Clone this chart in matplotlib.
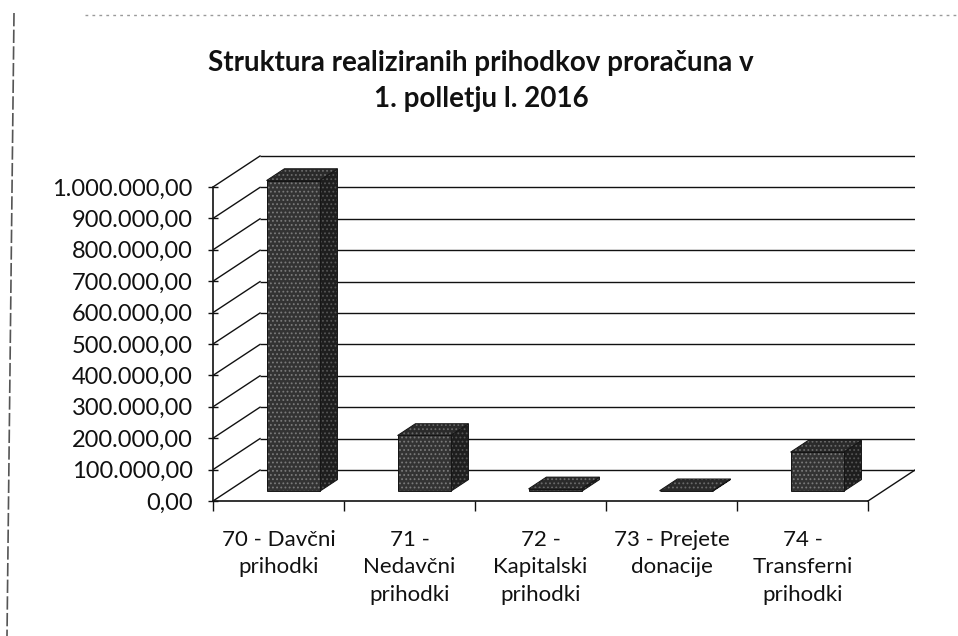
import matplotlib
matplotlib.use("Agg")
import matplotlib.pyplot as plt
from matplotlib.patches import Polygon
from matplotlib.lines import Line2D

# ---- data ----
categories = ["70 - Davčni\nprihodki", "71 -\nNedavčni\nprihodki", "72 -\nKapitalski\nprihodki",
              "73 - Prejete\ndonacije", "74 -\nTransferni\nprihodki"]
values = [990000, 178000, 8000, 2000, 125000]
y_ticks = [0, 100000, 200000, 300000, 400000, 500000, 600000, 700000, 800000, 900000, 1000000]
title = "Struktura realiziranih prihodkov proračuna v\n1. polletju l. 2016"

def fmt(v):
    s = f"{v:,.2f}"
    return s.replace(",", "X").replace(".", ",").replace("X", ".")

# ---- layout ----
W, H = 958, 636
plt.rcParams["hatch.linewidth"] = 0.8
fig = plt.figure(figsize=(W / 100, H / 100), dpi=100)
fig.patch.set_facecolor("white")

px_left, px_right, px_top, px_bottom = 213, 915, 150, 510
px_zero = 501
px_per_cat = 131.0
px_per_val = 314.0 / 1e6
depth_dx, depth_dy = 47.0, 31.0

ax = fig.add_axes([px_left / W, (H - px_bottom) / H, (px_right - px_left) / W, (px_bottom - px_top) / H])
ax.set_xlim(-0.5, -0.5 + (px_right - px_left) / px_per_cat)
ax.set_ylim(-(px_bottom - px_zero) / px_per_val, (px_zero - px_top) / px_per_val)
kx = depth_dx / px_per_cat
ky = depth_dy / px_per_val
n = len(categories)

def proj(x, v, t):
    return (x + kx * t, v + ky * t)

LC = "#111111"
# back wall gridlines + side wall diagonals
for v in y_ticks:
    x0, y0 = proj(-0.5, v, 1)
    x1, y1 = proj(n - 0.5, v, 1)
    ax.plot([x0, x1], [y0, y1], color=LC, lw=1.0, zorder=1, solid_capstyle="butt")
    xa, ya = proj(-0.5, v, 0)
    ax.plot([xa, x0], [ya, y0], color=LC, lw=1.0, zorder=1)
# floor right edge
xa, ya = proj(n - 0.5, 0, 0)
xb, yb = proj(n - 0.5, 0, 1)
ax.plot([xa, xb], [ya, yb], color=LC, lw=1.0, zorder=1)

# bars (stippled dark texture)
bw = 0.405
t0, t1 = 0.31, 0.69

def face(pts, fc, hc, z):
    ax.add_patch(Polygon(pts, closed=True, facecolor=fc, edgecolor="none", lw=0, zorder=z))
    ax.add_patch(Polygon(pts, closed=True, facecolor="none", edgecolor=hc, lw=0, hatch="....", zorder=z + 0.1))
    ax.add_patch(Polygon(pts, closed=True, facecolor="none", edgecolor="#151515", lw=0.7, zorder=z + 0.2))

for i, v in enumerate(values):
    xl, xr = i - bw / 2, i + bw / 2
    front = [proj(xl, 0, t0), proj(xr, 0, t0), proj(xr, v, t0), proj(xl, v, t0)]
    side = [proj(xr, 0, t0), proj(xr, 0, t1), proj(xr, v, t1), proj(xr, v, t0)]
    top = [proj(xl, v, t0), proj(xr, v, t0), proj(xr, v, t1), proj(xl, v, t1)]
    face(side, "#1e1e1e", "#555555", 3)
    face(front, "#333333", "#7a7a7a", 4)
    face(top, "#2a2a2a", "#6a6a6a", 4)

# axes / spines
ax.patch.set_visible(False)
for s in ["top", "right"]:
    ax.spines[s].set_visible(False)
ax.spines["left"].set_bounds(0, 1e6)
ax.spines["left"].set_color(LC)
ax.spines["left"].set_linewidth(1.2)
ax.spines["bottom"].set_position(("data", 0))
ax.spines["bottom"].set_bounds(-0.5, n - 0.5)
ax.spines["bottom"].set_color(LC)
ax.spines["bottom"].set_linewidth(1.2)

ax.set_yticks(y_ticks)
ax.set_yticklabels([fmt(v) for v in y_ticks], fontsize=17, family="Lato", color="#111111")
ax.tick_params(axis="y", direction="inout", length=7, width=1.0, pad=11, color=LC)

ax.set_xticks(range(n))
ax.set_xticklabels(categories, fontsize=16, family="Lato", color="#111111", linespacing=1.45, va="top")
ax.set_xticks([i - 0.5 for i in range(n + 1)], minor=True)
ax.tick_params(axis="x", which="major", length=0, pad=21)
ax.tick_params(axis="x", which="minor", direction="out", length=7, width=1.0, color=LC)

fig.text(481 / W, 1 - 81 / H, title, ha="center", va="center", fontsize=20, fontweight="bold",
         family="Lato", color="#111111", linespacing=1.45)

# scan artifacts: page border lines
fig.add_artist(Line2D([85 / W, 1.0], [1 - 15 / H, 1 - 15 / H], color="#9a9a9a", lw=1.0, ls=(0, (2, 3))))
fig.add_artist(Line2D([14 / W, 7 / W], [1 - 13 / H, 0], color="#555555", lw=1.2, ls=(0, (8, 2))))

fig.savefig("out.png", dpi=100, facecolor="white")
